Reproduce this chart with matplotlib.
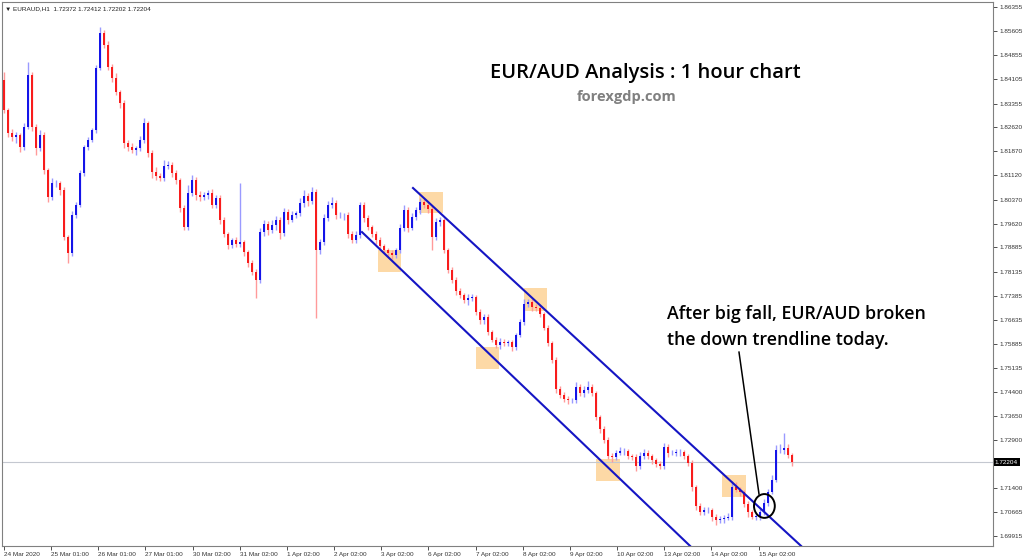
import numpy as np
import matplotlib
matplotlib.use('Agg')
import matplotlib.pyplot as plt
from matplotlib.patches import Rectangle, Ellipse
from matplotlib.transforms import blended_transform_factory

# EURAUD H1, one candle per ~2 hours (24 Mar - 15 Apr 2020)
first_open = 1.8409
closes = [
    1.8315, 1.8244, 1.8232, 1.8238, 1.8200, 1.8263, 1.8424, 1.8263, 1.8197, 1.8238,
    1.8129, 1.8045, 1.8089, 1.8089, 1.8067, 1.7921, 1.7871, 1.7989, 1.8020, 1.8120,
    1.8200, 1.8222, 1.8253, 1.8446, 1.8555, 1.8517, 1.8449, 1.8415, 1.8371, 1.8337,
    1.8213, 1.8200, 1.8191, 1.8197, 1.8222, 1.8275, 1.8182, 1.8123, 1.8111, 1.8104,
    1.8141, 1.8145, 1.8120, 1.8098, 1.8011, 1.7952, 1.8058, 1.8098, 1.8051, 1.8045,
    1.8051, 1.8058, 1.8020, 1.8042, 1.7974, 1.7930, 1.7896, 1.7911, 1.7899, 1.7905,
    1.7874, 1.7840, 1.7812, 1.7787, 1.7936, 1.7961, 1.7943, 1.7958, 1.7974, 1.7933,
    1.7998, 1.7974, 1.7989, 1.7995, 1.8027, 1.8048, 1.8033, 1.8061, 1.7880, 1.7905,
    1.7980, 1.8020, 1.8027, 1.7989, 1.7989, 1.7989, 1.7930, 1.7911, 1.7927, 1.8020,
    1.7980, 1.7952, 1.7930, 1.7911, 1.7893, 1.7880, 1.7871, 1.7865, 1.7880, 1.7949,
    1.8005, 1.7949, 1.7983, 1.8005, 1.8030, 1.8020, 1.8008, 1.7921, 1.7967, 1.7974,
    1.7880, 1.7818, 1.7787, 1.7753, 1.7740, 1.7725, 1.7731, 1.7734, 1.7688, 1.7663,
    1.7672, 1.7625, 1.7601, 1.7585, 1.7594, 1.7591, 1.7594, 1.7579, 1.7616, 1.7656,
    1.7712, 1.7719, 1.7703, 1.7700, 1.7681, 1.7638, 1.7591, 1.7539, 1.7448, 1.7430,
    1.7417, 1.7414, 1.7414, 1.7454, 1.7436, 1.7445, 1.7454, 1.7436, 1.7361, 1.7324,
    1.7290, 1.7240, 1.7237, 1.7250, 1.7256, 1.7256, 1.7240, 1.7237, 1.7209, 1.7240,
    1.7250, 1.7240, 1.7228, 1.7215, 1.7209, 1.7268, 1.7250, 1.7250, 1.7253, 1.7253,
    1.7240, 1.7218, 1.7144, 1.7085, 1.7066, 1.7073, 1.7073, 1.7051, 1.7042, 1.7045,
    1.7048, 1.7051, 1.7144, 1.7135, 1.7129, 1.7091, 1.7066, 1.7051, 1.7054, 1.7066,
    1.7094, 1.7129, 1.7166, 1.7259, 1.7259, 1.7265, 1.7243, 1.72204,
]
# wick lengths beyond the body, in pips
wick_up = [
    25, 8, 12, 10, 6, 12, 40, 8, 10, 14,
    8, 6, 14, 10, 6, 8, 6, 12, 10, 8,
    6, 10, 8, 10, 18, 8, 12, 8, 14, 6,
    8, 10, 12, 8, 12, 14, 6, 8, 14, 10,
    20, 12, 10, 8, 6, 8, 24, 14, 8, 12,
    10, 8, 12, 10, 8, 10, 6, 8, 10, 184,
    8, 6, 10, 8, 14, 12, 10, 16, 12, 8,
    14, 10, 12, 8, 16, 20, 10, 14, 8, 10,
    12, 14, 18, 8, 10, 6, 10, 8, 12, 8,
    10, 8, 6, 8, 10, 6, 8, 10, 8, 12,
    14, 10, 12, 10, 12, 10, 8, 8, 12, 10,
    6, 8, 10, 8, 10, 8, 12, 10, 6, 8,
    10, 8, 6, 8, 12, 10, 8, 6, 8, 10,
    16, 10, 8, 10, 6, 8, 10, 6, 8, 10,
    8, 10, 8, 16, 10, 14, 18, 10, 6, 8,
    10, 8, 10, 8, 12, 10, 6, 8, 10, 14,
    12, 10, 8, 6, 10, 14, 10, 8, 8, 10,
    6, 8, 10, 6, 8, 10, 8, 6, 8, 10,
    8, 12, 20, 14, 8, 6, 8, 6, 8, 10,
    12, 10, 14, 16, 18, 47, 14, 8,
]
wick_dn = [
    10, 12, 14, 20, 16, 8, 6, 14, 20, 10,
    12, 14, 10, 12, 16, 10, 31, 10, 8, 6,
    10, 8, 6, 8, 6, 10, 8, 12, 10, 14,
    16, 12, 10, 14, 10, 8, 14, 18, 12, 10,
    8, 10, 12, 14, 12, 10, 8, 10, 14, 12,
    10, 12, 8, 10, 14, 10, 12, 10, 8, 10,
    12, 14, 10, 56, 10, 12, 16, 10, 14, 18,
    10, 12, 8, 10, 8, 12, 16, 10, 211, 12,
    10, 8, 10, 12, 10, 14, 12, 10, 8, 10,
    12, 10, 8, 12, 10, 8, 10, 12, 10, 8,
    10, 12, 8, 10, 12, 10, 14, 41, 10, 12,
    10, 8, 10, 12, 8, 10, 14, 8, 10, 12,
    14, 10, 8, 10, 12, 8, 10, 12, 8, 6,
    8, 10, 12, 8, 10, 6, 8, 10, 12, 8,
    10, 12, 8, 10, 8, 12, 10, 8, 10, 12,
    8, 10, 14, 10, 8, 12, 10, 8, 14, 10,
    8, 10, 12, 10, 8, 10, 12, 8, 10, 12,
    8, 10, 12, 14, 10, 8, 10, 12, 16, 10,
    12, 8, 10, 8, 12, 10, 14, 8, 10, 12,
    8, 10, 6, 8, 10, 12, 8, 10,
]

date_labels = ['24 Mar 2020', '25 Mar 01:00', '26 Mar 01:00', '27 Mar 01:00',
               '30 Mar 02:00', '31 Mar 02:00', '1 Apr 02:00', '2 Apr 02:00',
               '3 Apr 02:00', '6 Apr 02:00', '7 Apr 02:00', '8 Apr 02:00',
               '9 Apr 02:00', '10 Apr 02:00', '13 Apr 02:00', '14 Apr 02:00',
               '15 Apr 02:00']
price_ticks = [1.86355, 1.85605, 1.84855, 1.84105, 1.83355, 1.82620, 1.81870,
               1.81120, 1.80370, 1.79620, 1.78885, 1.78135, 1.77385, 1.76635,
               1.75885, 1.75135, 1.74400, 1.73650, 1.72900, 1.71400, 1.70665,
               1.69915]
last_price = 1.72204
header = '\u25bc EURAUD,H1  1.72372 1.72412 1.72202 1.72204'

# orange highlight boxes: (first bar, last bar, top price, bottom price)
touch_boxes = [(93.5, 99.25, 1.7880, 1.7812),
               (103.7, 109.7, 1.8061, 1.7995),
               (118.0, 123.75, 1.7579, 1.7511),
               (130.0, 135.75, 1.7762, 1.7691),
               (148.0, 153.9, 1.7231, 1.7163),
               (179.5, 185.4, 1.7181, 1.7113)]
upper_channel = ([102.25, 199.25], [1.8073, 1.6961])
lower_channel = ([89.5, 171.5], [1.7936, 1.6961])

assert len(closes) == len(wick_up) == len(wick_dn)

c = np.array(closes)
o = np.concatenate([[first_open], c[:-1]])
hi = np.maximum(o, c) + np.array(wick_up) * 0.0001
lo = np.minimum(o, c) - np.array(wick_dn) * 0.0001
x = np.arange(len(c))
up = c >= o

fig = plt.figure(figsize=(10.24, 5.58), dpi=100)
ax = fig.add_axes([2 / 1024, 12 / 558, 991 / 1024, 544 / 558])
ax.set_xlim(-0.5, 247.25)
ax.set_ylim(1.69606, 1.86510)

# highlight boxes under the candles
for x0, x1, top, bot in touch_boxes:
    ax.add_patch(Rectangle((x0, bot), x1 - x0, top - bot, facecolor='#fdd9a6',
                           edgecolor='none', zorder=1))

ax.axhline(last_price, color='#c4c8d0', lw=0.8, zorder=1)

# candles
ax.vlines(x[up], lo[up], hi[up], color='#9a9aff', lw=1.0, zorder=2)
ax.vlines(x[~up], lo[~up], hi[~up], color='#ff9a9a', lw=1.0, zorder=2)
ax.bar(x[up], (c - o)[up], bottom=o[up], width=0.55, color='#1414e8', lw=0, zorder=3)
ax.bar(x[~up], (c - o)[~up], bottom=o[~up], width=0.55, color='#f81c1c', lw=0, zorder=3)

# down channel
ax.plot(*upper_channel, color='#1515c4', lw=1.5, zorder=4)
ax.plot(*lower_channel, color='#1515c4', lw=1.5, zorder=4)

# breakout marker
ax.add_patch(Ellipse((190.1, 1.7085), 5.2, 0.0074, fill=False, edgecolor='black',
                     lw=1.4, zorder=5))
ax.plot([183.75, 188.75], [1.7563, 1.7122], color='black', lw=1.1, zorder=5)

# axes look (MT4 style)
for s in ax.spines.values():
    s.set_color('#808080')
    s.set_linewidth(0.8)
ax.yaxis.tick_right()
ax.set_yticks(price_ticks)
ax.set_yticklabels(['%.5f' % p for p in price_ticks])
ax.set_xticks(np.arange(len(date_labels)) * 11.79)
ax.set_xticklabels(date_labels, ha='left')
ax.tick_params(axis='both', labelsize=4.6, colors='#333333', length=3,
               width=0.6, pad=1.5)
for lab in ax.get_xticklabels() + ax.get_yticklabels():
    lab.set_family(['Liberation Sans', 'DejaVu Sans'])

trans = blended_transform_factory(ax.transAxes, ax.transData)
ax.text(1.002, last_price, '%.5f' % last_price, transform=trans, ha='left',
        va='center', color='white', fontsize=4.6, family='Liberation Sans',
        bbox=dict(facecolor='black', edgecolor='none', pad=1.0), clip_on=False)

ax.text(0.003, 0.993, header, transform=ax.transAxes, ha='left', va='top',
        fontsize=4.6, color='#222222', family=['Liberation Sans', 'DejaVu Sans'])

# titles and comment
fig.text(645 / 1024, 1 - 73 / 558, 'EUR/AUD Analysis : 1 hour chart', ha='center',
         va='center', fontsize=14.5, family='Open Sans', weight='semibold', color='black')
fig.text(627 / 1024, 1 - 97 / 558, 'forexgdp.com', ha='center', va='center',
         fontsize=10.5, family='Open Sans', weight='bold', color='#808080')
fig.text(667 / 1024, 1 - 327 / 558, 'After big fall, EUR/AUD broken\nthe down trendline today.',
         ha='left', va='center', fontsize=12.8, family='Open Sans', weight='semibold',
         color='black', linespacing=1.55)

fig.savefig('out.png', dpi=100)
